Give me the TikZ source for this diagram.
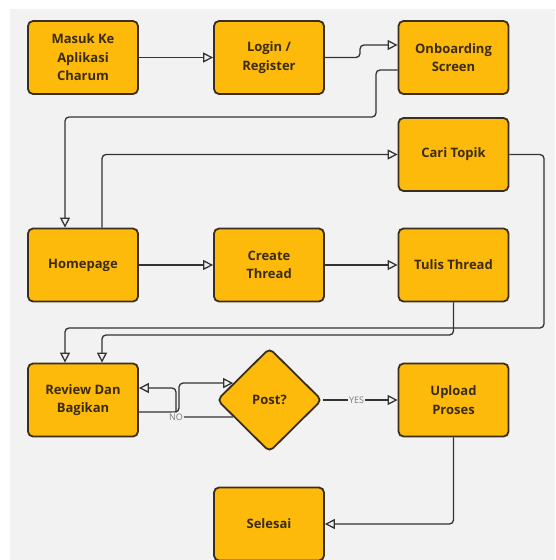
\documentclass[tikz,border=0pt]{standalone}
\usepackage{fontspec}
\setmainfont{Open Sans}
\usetikzlibrary{arrows.meta,shapes.geometric}
\definecolor{bgc}{HTML}{F2F2F2}
\definecolor{boxfill}{HTML}{FDBA0A}
\definecolor{boxline}{HTML}{3A2F1E}
\definecolor{txt}{HTML}{3B2B0F}
\definecolor{conncol}{HTML}{333333}
\definecolor{lblcol}{HTML}{7A7A7A}
\tikzset{
  stepbox/.style={draw=boxline, line width=1.8pt, fill=boxfill, rounded corners=5pt,
    minimum width=110pt, minimum height=73pt, align=center, text=txt,
    font=\fontsize{13pt}{18.5pt}\selectfont\bfseries, inner sep=2pt},
  decbox/.style={diamond, draw=boxline, line width=1.8pt, fill=boxfill, rounded corners=5pt,
    minimum width=105pt, minimum height=104pt, inner sep=0pt, text=txt,
    font=\fontsize{13pt}{18.5pt}\selectfont\bfseries},
  conn/.style={draw=conncol, line width=1.3pt, rounded corners=4pt,
    -{Triangle[open, length=10pt, width=10pt, line width=1.3pt]}},
  lbl/.style={fill=bgc, text=lblcol, inner sep=1pt, font=\fontsize{9pt}{10pt}\selectfont}
}
\begin{document}
\begin{tikzpicture}[x=1pt,y=-1pt]
\useasboundingbox (0,0) rectangle (555,560);
\fill[bgc] (10,9) rectangle (555,560);

\node[stepbox] (masuk) at (83,57.5) {Masuk Ke\\Aplikasi\\Charum};
\node[stepbox] (login) at (269,57.5) {Login /\\Register};
\node[stepbox] (onb) at (453.5,57.5) {Onboarding\\Screen};
\node[stepbox] (cari) at (453.5,154.5) {Cari Topik};
\node[stepbox] (home) at (83,265) {Homepage};
\node[stepbox] (create) at (269,265) {Create\\Thread};
\node[stepbox] (tulis) at (453.5,265) {Tulis Thread};
\node[stepbox] (review) at (83,400) {Review Dan\\Bagikan};
\node[decbox] (post) at (269.5,400) {Post?};
\node[stepbox] (upload) at (453.5,400) {Upload\\Proses};
\node[stepbox] (selesai) at (269,524) {Selesai};

\draw[conn] (masuk.east) -- (login.west);
\draw[conn] (login.east) -- (360,57.5) |- ([yshift=12.5pt]onb.west);
\draw[conn] ([yshift=-12.5pt]onb.west) -| (376,117) -| ([xshift=-18pt]home.north);
\draw[conn] ([xshift=19pt]home.north) |- (cari.west);
\draw[conn] (home.east) -- (create.west);
\draw[conn] (create.east) -- (tulis.west);
\draw[conn] (cari.east) -| (544,328) -| ([xshift=-18pt]review.north);
\draw[conn] (tulis.south) -- (453.5,335) -| ([xshift=19pt]review.north);
\draw[conn] ([yshift=-12pt]review.east) -- (179,412) |- (post.155);
\draw[conn] (post.205) -| node[lbl, pos=0.5] {NO} (176,388) -- ([yshift=12pt]review.east);
\draw[conn] (post.east) -- node[lbl, pos=0.45] {YES} (upload.west);
\draw[conn] (upload.south) |- (selesai.east);
\end{tikzpicture}
\end{document}
